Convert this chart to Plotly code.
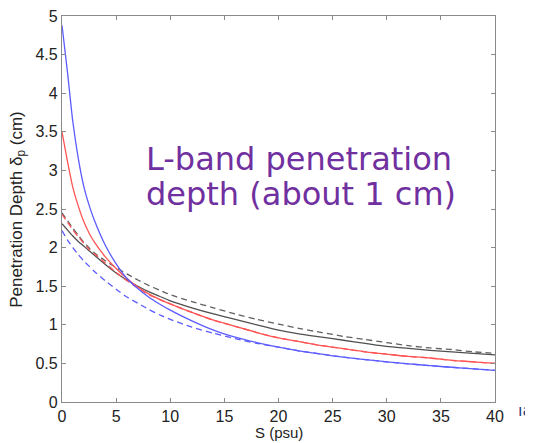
import plotly.graph_objects as go

S = [0, 0.5, 1, 1.5, 2, 2.5, 3, 4, 5, 6, 7, 8, 9, 10, 12, 14, 16, 18, 20,
     22, 24, 26, 28, 30, 32, 34, 36, 38, 40]

blue_solid = [4.88, 4.28, 3.63, 3.16, 2.80, 2.55, 2.35, 2.03, 1.79, 1.60, 1.47, 1.36, 1.27, 1.19,
              1.05, 0.93, 0.84, 0.77, 0.71, 0.66, 0.62, 0.58, 0.55, 0.52, 0.495, 0.47, 0.45, 0.43, 0.41]
blue_dash = [2.22, 2.10, 2.00, 1.91, 1.83, 1.76, 1.69, 1.57, 1.46, 1.36, 1.28, 1.20, 1.13, 1.07,
             0.97, 0.89, 0.82, 0.76, 0.71, 0.66, 0.62, 0.58, 0.55, 0.52, 0.495, 0.47, 0.45, 0.43, 0.41]
red_solid = [3.50, 3.12, 2.78, 2.54, 2.34, 2.19, 2.07, 1.88, 1.73, 1.60, 1.49, 1.40, 1.33, 1.27,
             1.16, 1.06, 0.98, 0.90, 0.83, 0.78, 0.73, 0.69, 0.65, 0.62, 0.59, 0.57, 0.54, 0.52, 0.50]
red_dash = [2.43, 2.33, 2.23, 2.14, 2.06, 1.98, 1.92, 1.80, 1.68, 1.57, 1.48, 1.39, 1.33, 1.27,
            1.16, 1.06, 0.98, 0.90, 0.83, 0.78, 0.73, 0.69, 0.65, 0.62, 0.59, 0.57, 0.54, 0.52, 0.50]
gray_solid = [2.31, 2.23, 2.15, 2.08, 2.02, 1.96, 1.90, 1.78, 1.67, 1.58, 1.50, 1.43, 1.37, 1.31,
              1.22, 1.14, 1.07, 1.00, 0.93, 0.88, 0.84, 0.80, 0.76, 0.72, 0.695, 0.67, 0.65, 0.63, 0.61]
gray_dash = [2.45, 2.35, 2.25, 2.16, 2.07, 2.00, 1.93, 1.83, 1.74, 1.66, 1.58, 1.51, 1.45, 1.39,
             1.30, 1.22, 1.14, 1.07, 1.01, 0.95, 0.90, 0.85, 0.81, 0.77, 0.73, 0.70, 0.68, 0.65, 0.63]

x_ticks = [0, 5, 10, 15, 20, 25, 30, 35, 40]
y_ticks = [0, 0.5, 1, 1.5, 2, 2.5, 3, 3.5, 4, 4.5, 5]
y_tick_labels = ["0", "0.5", "1", "1.5", "2", "2.5", "3", "3.5", "4", "4.5", "5"]

BLUE = "#5c5cff"
RED = "#ff5454"
GRAY = "#505050"
GRAY_D = "#606060"
FONT = "Liberation Sans, Arial, sans-serif"
PURPLE_FONT = "DejaVu Sans, Verdana, sans-serif"

series = [
    (gray_solid, GRAY, "solid"),
    (gray_dash, GRAY_D, "6px,4px"),
    (red_dash, RED, "6px,4px"),
    (red_solid, RED, "solid"),
    (blue_dash, BLUE, "6px,4px"),
    (blue_solid, BLUE, "solid"),
]

fig = go.Figure()
for ys, col, dash in series:
    fig.add_trace(go.Scatter(x=S, y=ys, mode="lines",
                             line=dict(color=col, width=1.3, dash=dash, shape="spline", smoothing=0.6),
                             showlegend=False, hoverinfo="skip"))

axis_common = dict(showline=True, linecolor="#8a8a8a", linewidth=1.2, mirror="ticks",
                   ticks="inside", ticklen=4, tickcolor="#8a8a8a", showgrid=False, zeroline=False,
                   automargin=False, ticklabeloverflow="allow",
                   tickfont=dict(family=FONT, size=16, color="#222"))

fig.update_xaxes(range=[0, 40], tickvals=x_ticks, ticktext=[str(v) for v in x_ticks], **axis_common)
fig.update_yaxes(range=[0, 5], tickvals=y_ticks, ticktext=y_tick_labels, **axis_common)

# axis titles
fig.add_annotation(text="S (psu)", xref="paper", yref="paper", x=0.5, y=-0.078,
                   xanchor="center", yanchor="middle", showarrow=False,
                   font=dict(family=FONT, size=15, color="#222"))
fig.add_annotation(text="Penetration Depth δ<sub>p</sub> (cm)", xref="paper", yref="paper",
                   x=-0.102, y=0.5, xanchor="center", yanchor="middle", textangle=-90,
                   showarrow=False, font=dict(family=FONT, size=17, color="#222"))

# overlay text
fig.add_annotation(text="L-band penetration", xref="paper", yref="paper",
                   x=0.19, y=0.684, xanchor="left", yanchor="top", showarrow=False,
                   font=dict(family=PURPLE_FONT, size=32, color="#7030a0"))
fig.add_annotation(text="depth (about 1 cm)", xref="paper", yref="paper",
                   x=0.19, y=0.593, xanchor="left", yanchor="top", showarrow=False,
                   font=dict(family=PURPLE_FONT, size=32, color="#7030a0"))
fig.add_annotation(text="ıa", xref="paper", yref="paper", x=1.048, y=-0.022, xanchor="left",
                   yanchor="middle", showarrow=False,
                   font=dict(family="DejaVu Sans, sans-serif", size=16, color="#1f3d7a"))

fig.update_layout(width=525, height=435, margin=dict(l=54, r=38, t=8, b=41),
                  paper_bgcolor="white", plot_bgcolor="white")

fig.write_html("out.html")
